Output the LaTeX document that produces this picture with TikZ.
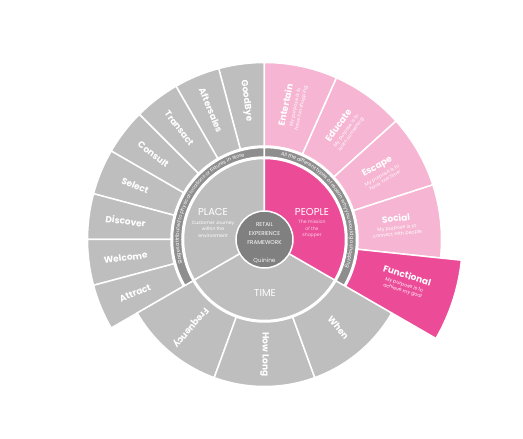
\documentclass[tikz,border=0pt]{standalone}
\usepackage{fontspec}
\setmainfont{Poppins}
\usetikzlibrary{decorations.text}
\definecolor{segGray}{HTML}{BEBEBE}
\definecolor{bandGray}{HTML}{8E8E8E}
\definecolor{discGray}{HTML}{808080}
\definecolor{lightPink}{HTML}{F6B5D2}
\definecolor{hotPink}{HTML}{EC4B98}
\definecolor{subPink}{HTML}{FAD3E5}
\tikzset{
  seg/.style={fill=segGray, draw=white, line width=1.5pt},
  pseg/.style={fill=lightPink, draw=white, line width=1.5pt},
  hseg/.style={fill=hotPink, draw=white, line width=1.5pt},
  band/.style={fill=bandGray, draw=white, line width=1.5pt},
  seglab/.style={text=white, font=\fontsize{9}{10}\selectfont\bfseries, inner sep=0pt},
  pinklab/.style={text=white, align=center, inner sep=0pt, font=\fontsize{4.8}{6}\selectfont},
  biglab/.style={text=white, font=\fontsize{10}{11}\selectfont, inner sep=0pt},
  smalllab/.style={align=center, font=\fontsize{4.6}{6.6}\selectfont, inner sep=0pt},
}
\newcommand{\ptitle}[1]{{\fontsize{9}{10}\selectfont\bfseries #1}}
\begin{document}
\begin{tikzpicture}
\useasboundingbox (-264.5pt,-199.5pt) rectangle (258.5pt,239.5pt);
% PLACE outer segments
\foreach \lab [count=\i from 0] in {GoodBye,Aftersales,Transact,Consult,Select,Discover,Welcome,Attract}{
  \pgfmathsetmacro\aa{90+15*\i}
  \pgfmathsetmacro\ab{105+15*\i}
  \pgfmathsetmacro\am{97.5+15*\i}
  \pgfmathsetmacro\rot{\am+180}
  \filldraw[seg] (\aa:93.5pt) arc[start angle=\aa, end angle=\ab, radius=93.5pt] -- (\ab:177pt) arc[start angle=\ab, end angle=\aa, radius=177pt] -- cycle;
  \node[seglab, rotate=\rot] (pl\i) at (\am:140pt) {\lab};
}
% TIME outer segments
\foreach \lab [count=\i from 0] in {Frequency,How Long,When}{
  \pgfmathsetmacro\aa{210+40*\i}
  \pgfmathsetmacro\ab{250+40*\i}
  \pgfmathsetmacro\am{230+40*\i}
  \filldraw[seg] (\aa:82.5pt) arc[start angle=\aa, end angle=\ab, radius=82.5pt] -- (\ab:147pt) arc[start angle=\ab, end angle=\aa, radius=147pt] -- cycle;
  \node[seglab, rotate=\am] (tm\i) at (\am:115pt) {\lab};
}
% PEOPLE outer segments
\foreach \aa/\ab in {66/90,42/66,18/42,-6/18}{
  \filldraw[pseg] (\aa:93.5pt) arc[start angle=\aa, end angle=\ab, radius=93.5pt] -- (\ab:177pt) arc[start angle=\ab, end angle=\aa, radius=177pt] -- cycle;
}
\filldraw[hseg] (-30:93.5pt) arc[start angle=-30, end angle=-6, radius=93.5pt] -- (-6:198pt) arc[start angle=-6, end angle=-30, radius=198pt] -- cycle;
\node[pinklab, rotate=78] (ent) at (78:136pt) {\ptitle{Entertain}\\[2pt]My purpose is to\\have fun shopping};
\node[pinklab, rotate=54] (edu) at (54:136pt) {\ptitle{Educate}\\[2pt]My purpose is to\\learn something};
\node[pinklab, rotate=30] (esc) at (30:134pt) {\ptitle{Escape}\\[2pt]My purpose is to\\have `me time'};
\node[pinklab, rotate=6] (soc) at (6:133pt) {\ptitle{Social}\\[2pt]My purpose is to\\connect with people};
\node[pinklab, rotate=-17] (fun) at (-17:147pt) {\ptitle{Functional}\\[2pt]My purpose is to\\achieve my goal};
% bands
\filldraw[band] (90:82.5pt) arc[start angle=90, end angle=210, radius=82.5pt] -- (210:92pt) arc[start angle=210, end angle=90, radius=92pt] -- cycle;
\filldraw[band] (-30:82.5pt) arc[start angle=-30, end angle=90, radius=82.5pt] -- (90:92pt) arc[start angle=90, end angle=-30, radius=92pt] -- cycle;
\path[decorate, decoration={text along path, text color=white, text align=center, raise=-1.6pt,
  text={|\fontsize{5}{6}\selectfont|Stages attributed to physical locations or fixtures in store}}]
  (210:87.2pt) arc[start angle=210, end angle=90, radius=87.2pt];
\path[decorate, decoration={text along path, text color=white, text align=center, raise=-1.6pt,
  text={|\fontsize{5}{6}\selectfont|All the different types of reason why you would go shopping}}]
  (90:87.2pt) arc[start angle=90, end angle=-30, radius=87.2pt];
% inner sectors
\filldraw[seg] (0pt,0pt) -- (90:81pt) arc[start angle=90, end angle=210, radius=81pt] -- cycle;
\filldraw[seg] (0pt,0pt) -- (210:81pt) arc[start angle=210, end angle=330, radius=81pt] -- cycle;
\filldraw[hseg] (0pt,0pt) -- (-30:81pt) arc[start angle=-30, end angle=90, radius=81pt] -- cycle;
\node[biglab] (place) at (-51.5pt,27.5pt) {PLACE};
\node[smalllab, text=white] (placesub) at (-51.5pt,10.5pt) {Customer Journey\\within the\\environment};
\node[biglab] (people) at (47.5pt,27.5pt) {PEOPLE};
\node[smalllab, text=subPink] (peoplesub) at (47.5pt,10.5pt) {The mission\\of the\\shopper};
\node[biglab] (time) at (0.5pt,-53.5pt) {TIME};
% centre disc
\filldraw[fill=discGray, draw=white, line width=1.5pt] (0pt,0pt) circle (28.5pt);
\node[align=center, text=white, font=\fontsize{5.6}{9}\selectfont, inner sep=0pt] (ret) at (0pt,5.5pt) {RETAIL\\EXPERIENCE\\FRAMEWORK};
\node[text=white!90!discGray, font=\fontsize{5.8}{7}\selectfont, inner sep=0pt] (quin) at (0pt,-21pt) {Quinine};
\end{tikzpicture}
\end{document}
